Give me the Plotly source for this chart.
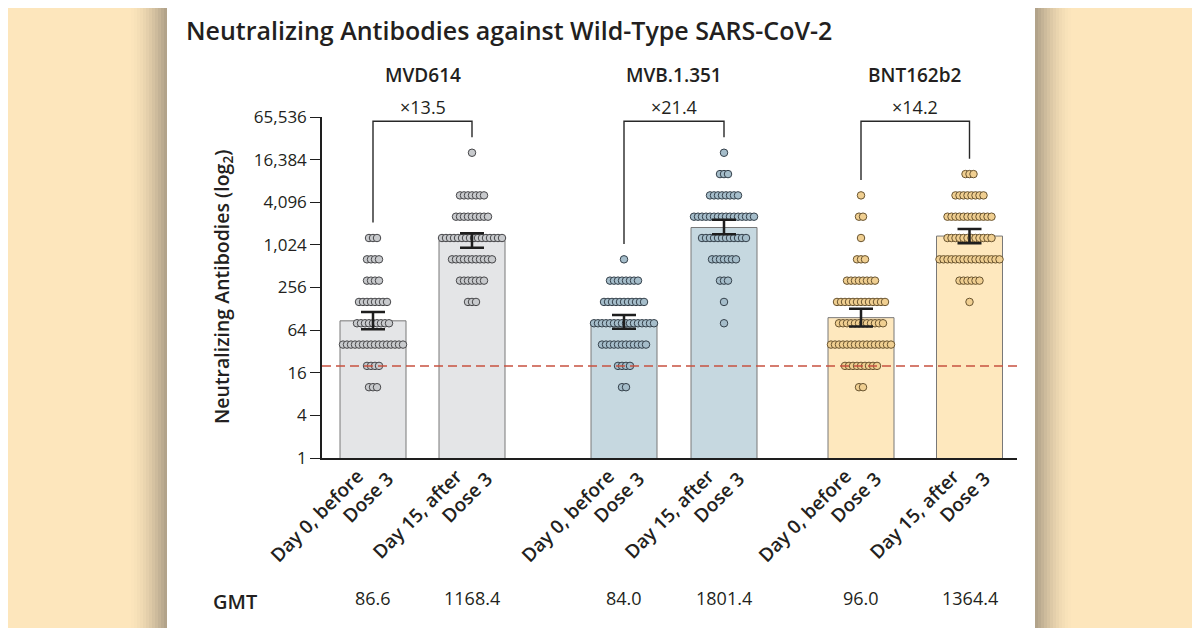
"""
Neutralizing antibodies against wild-type SARS-CoV-2, before and after dose 3.
Bars are GMT with 95% CI, dots are individual titers (stacked in rows).
"""
import numpy as np
import plotly.graph_objects as go

# titer levels on the dilution series
titer_levels = [10, 20, 40, 80, 160, 320, 640, 1280, 2560, 5120, 10240, 20480]

# number of participants at each titer level
mvd614_day0 = [3, 4, 16, 9, 8, 4, 4, 3, 0, 0, 0, 0]
mvd614_day15 = [0, 0, 0, 0, 3, 7, 11, 16, 9, 7, 0, 1]
mvb1351_day0 = [2, 4, 12, 16, 11, 8, 1, 0, 0, 0, 0, 0]
mvb1351_day15 = [0, 0, 0, 1, 1, 3, 7, 12, 16, 8, 3, 1]
bnt162b2_day0 = [2, 9, 16, 12, 13, 8, 3, 1, 2, 1, 0, 0]
bnt162b2_day15 = [0, 0, 0, 0, 1, 6, 16, 12, 12, 8, 3, 0]

groups = ["MVD614", "MVB.1.351", "BNT162b2"]
timepoints = ["Day 0, before<br>Dose 3", "Day 15, after<br>Dose 3"]
gmt = [86.6, 1168.4, 84.0, 1801.4, 96.0, 1364.4]
ci_low = [66, 929, 67, 1450, 72, 1082]
ci_high = [115, 1500, 105, 2310, 128, 1720]
fold_rise = ["×13.5", "×21.4", "×14.2"]
lloq = 20
y_tickvals = [1, 4, 16, 64, 256, 1024, 4096, 16384, 65536]
y_ticktext = ["1", "4", "16", "64", "256", "1,024", "4,096", "16,384", "65,536"]

counts = [mvd614_day0, mvd614_day15, mvb1351_day0, mvb1351_day15,
          bnt162b2_day0, bnt162b2_day15]

# layout: plot area in page pixels (x axis uses 1 unit = 1 px)
W, H = 1200, 628
OFF = 8                                 # page body margin of the browser
X0, X1, Y0, Y1 = 322, 1017, 117, 458   # left, right, top, bottom of plot area
POS = [51, 150, 302, 402, 539, 647.5]
BAR_W = 66
DOT_STEP = 4

TXT = "rgb(35,31,32)"
FONT = "Open Sans"
BEIGE = "rgb(253,230,188)"
bar_fill = ["rgb(228,229,231)", "rgb(198,216,224)", "rgb(254,232,190)"]
dot_fill = ["rgb(200,202,205)", "rgb(165,189,202)", "rgb(240,207,145)"]
dot_line = ["rgb(70,70,73)", "rgb(52,64,74)", "rgb(105,84,48)"]


def px_x(p):
    return (p - X0) / (X1 - X0)


def px_y(p):
    return (Y1 - p) / (Y1 - Y0)


fig = go.Figure()

# bars (GMT)
for i in range(6):
    g = i // 2
    fig.add_trace(go.Bar(
        x=[POS[i]], y=[gmt[i]], width=BAR_W,
        marker=dict(color=bar_fill[g], line=dict(color="rgb(120,120,120)", width=1)),
        showlegend=False, hoverinfo="skip",
    ))

# individual dots, one row per titer level
for i in range(6):
    g = i // 2
    xs, ys = [], []
    for lvl, n in zip(titer_levels, counts[i]):
        for k in range(n):
            xs.append(POS[i] + (k - (n - 1) / 2) * DOT_STEP)
            ys.append(lvl)
    fig.add_trace(go.Scatter(
        x=xs, y=ys, mode="markers",
        marker=dict(size=7.5, color=dot_fill[g], line=dict(color=dot_line[g], width=1)),
        showlegend=False, hoverinfo="skip",
    ))

# 95% CI error bars on top of dots
fig.add_trace(go.Scatter(
    x=POS, y=gmt, mode="markers", marker=dict(size=1, color="rgba(0,0,0,0)"),
    error_y=dict(type="data", symmetric=False,
                 array=[h - m for h, m in zip(ci_high, gmt)],
                 arrayminus=[m - l for l, m in zip(ci_low, gmt)],
                 color="rgb(30,30,30)", thickness=2.5, width=12),
    showlegend=False, hoverinfo="skip",
))

# lower limit of quantification
fig.add_trace(go.Scatter(
    x=[0, X1 - X0], y=[lloq, lloq], mode="lines",
    line=dict(color="rgb(200,82,64)", width=1.5, dash="9px,5px"),
    showlegend=False, hoverinfo="skip",
))

# brackets with fold rise
top = 2 ** 15.8
for g in range(3):
    xa, xb = POS[2 * g], POS[2 * g + 1]
    la = max(l for l, n in zip(titer_levels, counts[2 * g]) if n) * 1.65
    lb = max(l for l, n in zip(titer_levels, counts[2 * g + 1]) if n) * 1.65
    fig.add_trace(go.Scatter(
        x=[xa, xa, xb, xb], y=[la, top, top, lb], mode="lines",
        line=dict(color="rgb(40,40,40)", width=1.4),
        showlegend=False, hoverinfo="skip",
    ))
    fig.add_annotation(x=(xa + xb) / 2, xref="x", y=px_y(107), yref="paper",
                       text=fold_rise[g], showarrow=False,
                       xanchor="center", yanchor="middle",
                       font=dict(size=18, color=TXT, family=FONT))
    fig.add_annotation(x=(xa + xb) / 2, xref="x", y=px_y(75), yref="paper",
                       text=groups[g], showarrow=False,
                       xanchor="center", yanchor="middle",
                       font=dict(size=19, color=TXT, family=FONT, weight=600))

# category labels, each line rotated separately (line ends close to the axis)
for i in range(6):
    line1, line2 = timepoints[i % 2].split("<br>")
    for txt, dx, ypx in [(line1, -2, 461), (line2, 29, 463)]:
        fig.add_annotation(x=POS[i], xref="x", xshift=dx, y=px_y(ypx), yref="paper",
                           text=txt, textangle=-45, showarrow=False,
                           xanchor="right", yanchor="top",
                           font=dict(size=19, color=TXT, family=FONT, weight=600))

# GMT row
fig.add_annotation(x=px_x(211), y=px_y(601), xref="paper", yref="paper",
                   xanchor="left", yanchor="middle", text="GMT", showarrow=False,
                   font=dict(size=20, color=TXT, family=FONT, weight=600))
for i in range(6):
    fig.add_annotation(x=POS[i], xref="x", y=px_y(598), yref="paper",
                       xanchor="center", yanchor="middle",
                       text=f"{gmt[i]:.1f}", showarrow=False,
                       font=dict(size=18, color=TXT, family=FONT))

# title and y axis title
fig.add_annotation(x=px_x(184), y=px_y(30), xref="paper", yref="paper",
                   xanchor="left", yanchor="middle",
                   text="Neutralizing Antibodies against Wild-Type SARS-CoV-2",
                   showarrow=False, font=dict(size=25, color=TXT, family=FONT, weight=600))
fig.add_annotation(x=px_x(222), y=px_y(287), xref="paper", yref="paper", textangle=-90,
                   xanchor="center", yanchor="middle",
                   text="Neutralizing Antibodies (log<sub>2</sub>)",
                   showarrow=False, font=dict(size=19.5, color=TXT, family=FONT, weight=600))

# background card with soft side shadows
full = dict(xref="paper", yref="paper", layer="below", line=dict(width=0),
            y0=px_y(H + OFF), y1=px_y(0))
shapes = [dict(type="rect", x0=px_x(167), x1=px_x(1035), fillcolor="white", **full)]
dark = np.array([178, 163, 138])
light = np.array([253, 230, 188])
n_strip = 12
w = 36 / n_strip
for k in range(n_strip):
    t = ((k + 1) / n_strip) ** 1.6
    c = light + (dark - light) * t
    col = f"rgb({int(c[0])},{int(c[1])},{int(c[2])})"
    shapes.append(dict(type="rect", x0=px_x(131 + k * w), x1=px_x(131 + (k + 1) * w),
                       fillcolor=col, **full))
    shapes.append(dict(type="rect", x0=px_x(1071 - (k + 1) * w), x1=px_x(1071 - k * w),
                       fillcolor=col, **full))

fig.update_layout(
    width=W, height=H,
    margin=dict(l=X0 - OFF, r=W - X1 + OFF, t=Y0 - OFF, b=H - Y1 + OFF, pad=0),
    paper_bgcolor=BEIGE, plot_bgcolor="rgba(0,0,0,0)",
    shapes=shapes, barmode="overlay",
    font=dict(family=FONT, color=TXT),
    xaxis=dict(range=[0, X1 - X0], tickvals=POS, showticklabels=False,
               ticks="", showgrid=False, zeroline=False,
               showline=True, linecolor="rgb(30,30,30)", linewidth=1.5),
    yaxis=dict(type="log", range=[0, np.log10(65536)], tickvals=y_tickvals,
               ticktext=y_ticktext, ticks="outside", ticklen=10, tickwidth=1.3,
               tickcolor="rgb(30,30,30)", showgrid=False, zeroline=False,
               showline=True, linecolor="rgb(30,30,30)", linewidth=1.5,
               tickfont=dict(size=17, color=TXT, family=FONT)),
)

fig.write_html("out.html")
